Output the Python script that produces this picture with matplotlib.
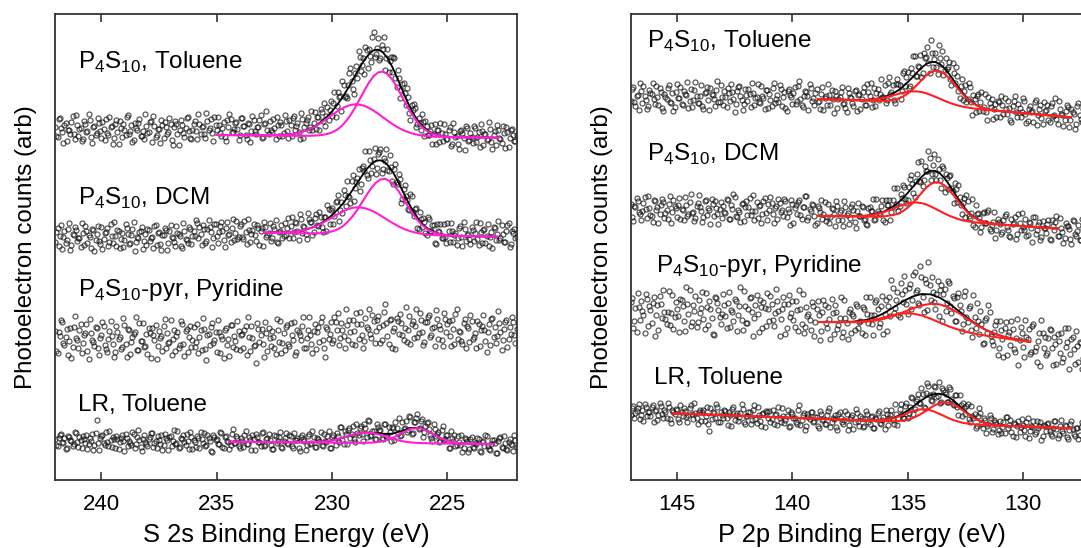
import numpy as np
import matplotlib.pyplot as plt

plt.rcParams['font.family'] = ['Liberation Sans', 'DejaVu Sans']

# energy ranges of the two sweeps (eV), one point per 0.1 eV, second sweep offset by half a step
s2s_range = (242.0, 222.0)
s2s_range_b = (241.95, 222.05)
p2p_range = (147.0, 127.0)
p2p_range_b = (146.95, 127.05)

# S 2s scans, counts (arb, stacked offsets) - sweep a
s2s_toluene = [
    353, 343, 362, 348, 355, 339, 350, 358, 346, 365, 344, 352, 341, 356, 349, 360, 337, 354, 347, 357,
    342, 351, 361, 345, 353, 336, 356, 348, 359, 343, 350, 363, 346, 355, 340, 352, 357, 344, 349, 366,
    347, 358, 338, 354, 345, 351, 360, 342, 353, 348, 356, 335, 359, 346, 350, 355, 343, 362, 349, 341,
    356, 349, 366, 346, 354, 342, 359, 352, 347, 363, 350, 355, 344, 358, 339, 353, 361, 348, 357, 351,
    345, 362, 354, 341, 356, 349, 360, 346, 353, 365, 343, 357, 350, 359, 348, 352, 363, 344, 355, 347,
    359, 342, 355, 362, 350, 357, 341, 361, 353, 360, 350, 369, 357, 351, 363, 371, 359, 354, 373, 370,
    364, 388, 374, 383, 369, 395, 384, 395, 412, 391, 407, 402, 423, 415, 406, 430, 431, 418, 448, 426,
    442, 422, 431, 410, 431, 419, 408, 422, 393, 402, 390, 397, 375, 383, 360, 370, 372, 356, 357, 366,
    344, 354, 345, 355, 346, 336, 350, 357, 339, 346, 341, 353, 336, 348, 344, 331, 350, 342, 354, 339,
    347, 337, 352, 343, 333, 349, 346, 340, 358, 338, 345, 335, 350, 341, 354, 332, 348, 342, 351, 339, 345]
s2s_dcm = [
    238, 252, 244, 231, 249, 240, 257, 235, 245, 250, 242, 233, 247, 254, 237, 243, 251, 229, 246, 239,
    253, 241, 248, 234, 256, 237, 244, 250, 232, 247, 240, 252, 236, 245, 258, 238, 242, 249, 231, 246,
    251, 239, 243, 254, 235, 248, 230, 245, 250, 237, 255, 242, 234, 247, 244, 232, 249, 240, 253, 236,
    249, 260, 242, 246, 255, 237, 251, 253, 233, 256, 244, 248, 258, 240, 252, 245, 238, 261, 247, 241,
    254, 243, 259, 236, 250, 246, 256, 239, 252, 249, 234, 253, 245, 257, 242, 251, 238, 248, 255, 244,
    245, 262, 254, 242, 258, 249, 266, 247, 253, 241, 261, 258, 248, 266, 254, 263, 248, 263, 275, 256,
    272, 264, 279, 259, 278, 290, 274, 284, 277, 305, 292, 302, 289, 312, 309, 305, 329, 307, 321, 306,
    326, 331, 311, 319, 310, 325, 299, 311, 298, 306, 277, 291, 284, 271, 286, 268, 271, 252, 268, 253,
    258, 245, 261, 249, 255, 236, 249, 256, 242, 243, 257, 238, 249, 245, 235, 252, 243, 258, 239, 246,
    236, 250, 247, 241, 257, 237, 251, 244, 234, 248, 253, 240, 259, 242, 246, 238, 255, 233, 249, 251, 243]
s2s_pyridine = [
    149, 127, 144, 158, 135, 151, 139, 122, 153, 142, 132, 156, 137, 147, 129, 161, 140, 134, 152, 125,
    145, 154, 131, 141, 159, 136, 128, 148, 143, 133, 155, 123, 150, 138, 146, 163, 130, 139, 157, 134,
    126, 147, 152, 140, 121, 149, 144, 154, 132, 137, 160, 141, 129, 148, 135, 156, 124, 151, 143, 133,
    153, 138, 127, 150, 162, 131, 145, 135, 157, 140, 128, 148, 144, 122, 152, 141, 155, 133, 139, 159,
    130, 146, 150, 125, 143, 154, 134, 117, 151, 145, 136, 158, 129, 142, 149, 132, 161, 138, 127, 147,
    153, 136, 157, 140, 125, 150, 145, 154, 132, 142, 163, 136, 149, 131, 153, 158, 140, 123, 151, 146,
    137, 163, 150, 135, 157, 144, 171, 140, 148, 160, 135, 156, 168, 145, 139, 153, 171, 142, 159, 149,
    164, 137, 155, 176, 144, 160, 132, 152, 162, 146, 157, 140, 173, 150, 136, 159, 154, 143, 167, 148,
    138, 158, 165, 145, 153, 170, 141, 151, 134, 161, 156, 144, 160, 136, 171, 149, 139, 157, 132, 152,
    165, 141, 147, 159, 134, 154, 150, 128, 156, 161, 143, 137, 169, 148, 140, 158, 133, 153, 163, 145, 151]
s2s_lr = [
    41, 34, 45, 38, 42, 32, 43, 39, 36, 47, 33, 40, 44, 37, 31, 42, 46, 35, 60, 30,
    44, 37, 48, 34, 40, 43, 32, 41, 38, 45, 29, 42, 39, 35, 46, 36, 50, 33, 41, 38,
    34, 43, 47, 37, 32, 40, 45, 35, 42, 30, 44, 39, 36, 49, 33, 41, 38, 46, 31, 43,
    40, 33, 42, 48, 37, 34, 45, 39, 28, 43, 41, 36, 47, 32, 44, 38, 35, 51, 37, 42,
    32, 39, 45, 36, 43, 30, 41, 46, 38, 34, 48, 35, 42, 40, 31, 45, 37, 43, 33, 39,
    47, 36, 44, 32, 40, 42, 29, 45, 39, 35, 46, 37, 43, 33, 41, 48, 34, 39, 44, 32,
    43, 40, 47, 38, 53, 36, 46, 50, 42, 54, 38, 47, 52, 46, 56, 43, 59, 45, 49, 41,
    53, 50, 41, 56, 43, 48, 53, 40, 52, 62, 45, 51, 59, 50, 63, 47, 58, 66, 52, 61,
    48, 57, 51, 42, 56, 44, 48, 39, 54, 41, 45, 32, 42, 45, 35, 38, 45, 32, 41, 28,
    41, 33, 37, 42, 29, 38, 34, 44, 31, 36, 40, 27, 39, 43, 32, 37, 30, 41, 35, 45, 33]

# S 2s - sweep b
s2s_toluene_b = [
    344, 361, 352, 337, 357, 350, 346, 364, 341, 355, 351, 339, 359, 348, 366, 343, 353, 345, 362, 349,
    358, 340, 347, 363, 354, 342, 360, 336, 352, 356, 345, 365, 349, 338, 357, 350, 361, 344, 341, 354,
    348, 359, 364, 343, 351, 337, 355, 358, 346, 362, 340, 353, 356, 335, 360, 347, 352, 363, 342, 350,
    359, 341, 356, 353, 346, 367, 350, 361, 339, 355, 363, 347, 352, 343, 360, 366, 348, 351, 358, 340,
    362, 354, 345, 357, 338, 364, 349, 353, 360, 342, 356, 369, 346, 350, 361, 341, 355, 358, 344, 365,
    349, 360, 344, 364, 354, 348, 367, 342, 357, 363, 353, 350, 368, 363, 350, 368, 377, 364, 360, 379,
    377, 363, 388, 384, 399, 383, 382, 407, 399, 386, 414, 429, 409, 422, 433, 412, 424, 443, 423, 432,
    420, 435, 443, 422, 408, 423, 423, 402, 410, 382, 396, 387, 392, 367, 375, 376, 353, 362, 350, 358,
    359, 345, 349, 336, 356, 350, 338, 347, 356, 341, 350, 334, 357, 343, 336, 349, 347, 330, 352, 340,
    343, 354, 338, 348, 356, 335, 346, 341, 351, 331, 349, 355, 342, 337, 347, 353, 333, 350, 345, 339]
s2s_dcm_b = [
    248, 234, 255, 243, 237, 251, 230, 246, 253, 239, 242, 257, 235, 249, 245, 232, 250, 240, 254, 236,
    231, 247, 252, 238, 244, 258, 234, 249, 241, 233, 256, 246, 237, 251, 229, 243, 248, 253, 239, 235,
    250, 242, 232, 255, 247, 236, 245, 252, 230, 249, 243, 238, 254, 246, 234, 257, 241, 237, 251, 244,
    244, 257, 253, 235, 251, 239, 260, 248, 242, 256, 237, 254, 249, 233, 258, 246, 252, 240, 259, 243,
    256, 241, 248, 261, 238, 250, 245, 255, 235, 252, 258, 243, 247, 239, 254, 260, 237, 249, 242, 257,
    252, 242, 263, 248, 257, 240, 261, 254, 246, 267, 258, 245, 262, 255, 268, 253, 263, 249, 271, 270,
    256, 278, 285, 270, 267, 285, 299, 283, 299, 279, 298, 311, 296, 314, 329, 302, 320, 314, 332, 312,
    328, 307, 322, 331, 309, 313, 296, 316, 296, 301, 281, 295, 280, 270, 284, 264, 272, 251, 261, 262,
    247, 263, 249, 255, 237, 256, 248, 242, 256, 237, 249, 257, 238, 247, 242, 254, 234, 251, 245, 241,
    253, 239, 258, 235, 248, 250, 237, 256, 243, 232, 252, 246, 240, 255, 238, 249, 257, 236, 247, 242]
s2s_pyridine_b = [
    129, 148, 160, 137, 143, 125, 152, 133, 164, 140, 150, 127, 145, 156, 121, 147, 138, 153, 132, 142,
    158, 135, 128, 149, 144, 123, 154, 141, 131, 162, 136, 151, 126, 143, 148, 130, 157, 139, 133, 146,
    152, 122, 145, 155, 134, 142, 129, 161, 147, 138, 125, 150, 144, 132, 159, 136, 149, 128, 154, 140,
    133, 156, 143, 130, 151, 120, 146, 153, 137, 148, 160, 127, 141, 150, 135, 124, 155, 144, 131, 149,
    145, 132, 154, 163, 129, 142, 135, 157, 138, 151, 123, 147, 152, 134, 143, 126, 150, 159, 137, 130,
    155, 134, 145, 158, 128, 148, 140, 163, 132, 150, 145, 127, 156, 148, 138, 163, 132, 153, 141, 158,
    140, 158, 167, 142, 150, 132, 155, 160, 136, 149, 167, 141, 156, 132, 162, 151, 146, 165, 137, 160,
    153, 140, 168, 157, 136, 161, 149, 131, 159, 166, 145, 152, 138, 164, 156, 142, 171, 147, 160, 135,
    158, 163, 143, 152, 134, 161, 155, 140, 167, 148, 159, 134, 151, 166, 141, 148, 136, 161, 154, 138,
    159, 143, 132, 156, 150, 165, 139, 148, 135, 162, 153, 144, 157, 130, 151, 160, 141, 146, 158, 137]
s2s_lr_b = [
    35, 42, 46, 37, 31, 44, 40, 34, 48, 38, 43, 32, 41, 45, 36, 39, 30, 47, 37, 42,
    45, 35, 38, 49, 33, 41, 44, 31, 42, 39, 46, 34, 37, 48, 32, 43, 40, 29, 45, 36,
    41, 47, 33, 39, 44, 36, 30, 46, 40, 43, 34, 50, 37, 32, 42, 45, 35, 39, 48, 31,
    38, 44, 32, 41, 47, 35, 42, 29, 45, 40, 36, 48, 33, 43, 39, 31, 46, 37, 44, 34,
    42, 33, 49, 36, 40, 45, 30, 43, 38, 47, 34, 41, 46, 35, 31, 44, 39, 48, 32, 42,
    37, 45, 34, 47, 40, 32, 43, 41, 30, 44, 36, 49, 33, 42, 39, 35, 46, 38, 49, 32,
    45, 35, 44, 53, 40, 49, 36, 52, 46, 41, 56, 45, 54, 39, 52, 60, 44, 49, 41, 56,
    50, 42, 56, 44, 53, 39, 52, 58, 47, 44, 58, 52, 48, 64, 46, 58, 62, 51, 59, 43,
    54, 58, 45, 39, 51, 46, 38, 50, 40, 45, 32, 49, 39, 34, 44, 35, 28, 42, 39, 31,
    43, 32, 36, 41, 28, 39, 45, 34, 30, 40, 37, 27, 42, 33, 44, 31, 38, 36, 29, 40]

# P 2p scans - sweep a
p2p_toluene = [
    379, 393, 374, 385, 397, 377, 384, 371, 390, 386, 381, 394, 375, 388, 369, 383, 392, 378, 387, 373,
    396, 382, 376, 389, 385, 372, 391, 380, 398, 377, 384, 374, 387, 393, 370, 386, 381, 390, 378, 395,
    375, 383, 392, 379, 388, 368, 389, 394, 380, 376, 385, 391, 373, 387, 382, 396, 377, 384, 371, 390,
    386, 374, 397, 381, 378, 391, 383, 372, 389, 385, 376, 393, 379, 399, 375, 384, 388, 370, 392, 382,
    387, 378, 371, 393, 382, 375, 385, 390, 367, 384, 381, 388, 376, 372, 392, 383, 377, 389, 369, 386,
    381, 393, 375, 388, 397, 380, 374, 391, 386, 383, 395, 380, 403, 388, 380, 396, 396, 381, 407, 394,
    408, 394, 407, 424, 404, 413, 403, 427, 423, 417, 440, 413, 427, 406, 422, 429, 410, 411, 418, 395,
    407, 413, 389, 394, 380, 395, 381, 393, 365, 381, 384, 369, 388, 373, 368, 383, 373, 361, 376, 379,
    363, 375, 382, 366, 372, 358, 379, 368, 376, 363, 382, 366, 359, 374, 369, 378, 355, 371, 362, 378,
    370, 360, 374, 364, 382, 356, 371, 365, 360, 375, 353, 371, 366, 356, 377, 361, 371, 349, 367, 362, 372]
p2p_dcm = [
    276, 259, 273, 279, 266, 269, 283, 262, 272, 264, 280, 270, 257, 275, 278, 267, 261, 284, 268, 274,
    263, 282, 271, 260, 275, 266, 286, 268, 262, 277, 273, 258, 279, 265, 270, 281, 264, 272, 256, 278,
    274, 267, 280, 261, 271, 283, 263, 268, 276, 259, 279, 273, 265, 285, 269, 262, 275, 266, 282, 260,
    270, 277, 257, 274, 281, 268, 264, 279, 271, 255, 276, 272, 266, 280, 261, 273, 284, 263, 269, 275,
    255, 274, 268, 261, 278, 263, 257, 272, 266, 279, 260, 270, 254, 273, 267, 262, 276, 258, 269, 264,
    274, 260, 256, 272, 269, 281, 261, 269, 266, 280, 258, 275, 280, 268, 292, 276, 269, 286, 295, 281,
    280, 301, 296, 283, 306, 299, 319, 300, 309, 329, 300, 315, 306, 321, 300, 314, 288, 302, 304, 292,
    277, 291, 295, 275, 277, 263, 279, 262, 281, 253, 266, 262, 253, 268, 257, 270, 249, 258, 242, 261,
    256, 248, 264, 253, 244, 261, 257, 241, 266, 250, 253, 261, 245, 257, 238, 263, 250, 258, 243, 252,
    247, 260, 240, 254, 258, 244, 262, 248, 242, 254, 251, 236, 259, 244, 255, 240, 251, 262, 241, 251, 245]
p2p_pyridine = [
    178, 152, 172, 187, 160, 169, 147, 181, 174, 157, 183, 165, 150, 176, 190, 161, 168, 155, 185, 163,
    171, 148, 180, 159, 193, 166, 154, 175, 184, 158, 167, 188, 151, 173, 179, 162, 145, 182, 170, 156,
    186, 164, 177, 153, 168, 181, 149, 174, 160, 189, 157, 171, 183, 144, 175, 166, 180, 152, 172, 187,
    159, 176, 154, 191, 169, 161, 183, 146, 176, 163, 179, 153, 170, 190, 156, 147, 173, 166, 150, 174,
    158, 179, 140, 168, 175, 152, 161, 181, 146, 168, 155, 183, 148, 162, 141, 171, 166, 150, 174, 158,
    147, 171, 183, 157, 165, 145, 178, 171, 157, 184, 166, 149, 183, 200, 167, 180, 165, 197, 178, 190,
    166, 196, 180, 208, 190, 175, 203, 168, 197, 218, 180, 188, 171, 199, 190, 159, 191, 177, 197, 167,
    182, 159, 187, 169, 156, 189, 158, 174, 143, 163, 177, 146, 156, 137, 162, 175, 144, 135, 155, 125,
    159, 141, 152, 125, 148, 159, 131, 142, 115, 153, 133, 160, 141, 126, 154, 129, 118, 147, 160, 132,
    125, 142, 150, 115, 136, 146, 127, 118, 152, 138, 111, 141, 131, 149, 118, 137, 122, 152, 126, 114, 140]
p2p_lr = [
    65, 74, 67, 72, 61, 70, 76, 64, 68, 73, 58, 70, 65, 74, 62, 68, 77, 61, 70, 66,
    70, 58, 68, 72, 63, 65, 75, 61, 67, 56, 70, 68, 59, 73, 49, 61, 67, 76, 58, 68,
    62, 69, 55, 65, 71, 60, 67, 63, 76, 58, 64, 68, 56, 70, 61, 73, 59, 66, 53, 68,
    69, 61, 56, 66, 73, 58, 64, 60, 70, 54, 66, 62, 56, 75, 60, 67, 54, 63, 68, 58,
    63, 54, 69, 60, 56, 65, 72, 58, 61, 53, 66, 62, 56, 69, 50, 61, 65, 58, 67, 54,
    62, 54, 69, 58, 63, 52, 62, 67, 57, 60, 51, 66, 62, 70, 56, 66, 62, 76, 62, 74,
    62, 73, 82, 71, 81, 77, 92, 73, 87, 94, 80, 86, 93, 84, 77, 92, 88, 78, 93, 81,
    75, 85, 65, 75, 77, 66, 76, 58, 64, 66, 54, 72, 56, 62, 47, 56, 62, 51, 58, 46,
    59, 53, 47, 63, 55, 48, 57, 43, 59, 53, 55, 44, 62, 49, 53, 46, 59, 54, 40, 55,
    49, 57, 46, 52, 59, 42, 54, 49, 55, 43, 50, 59, 46, 52, 41, 53, 55, 46, 39, 52, 50]

# P 2p - sweep b
p2p_toluene_b = [
    391, 378, 384, 370, 389, 394, 380, 374, 387, 397, 376, 383, 392, 372, 386, 381, 395, 377, 369, 388,
    382, 393, 375, 386, 398, 379, 373, 390, 384, 377, 395, 371, 388, 380, 392, 385, 374, 399, 378, 383,
    389, 373, 387, 396, 381, 376, 393, 384, 370, 391, 379, 386, 397, 375, 383, 378, 394, 382, 390, 372,
    380, 392, 377, 385, 395, 374, 388, 369, 391, 383, 387, 376, 394, 381, 373, 389, 384, 396, 379, 375,
    391, 379, 386, 370, 384, 396, 375, 381, 389, 372, 383, 393, 377, 368, 387, 382, 374, 390, 385, 371,
    388, 375, 396, 384, 373, 392, 387, 380, 401, 383, 377, 397, 386, 395, 377, 401, 395, 389, 409, 403,
    392, 412, 424, 404, 414, 425, 407, 422, 433, 407, 427, 421, 413, 435, 416, 405, 422, 413, 401, 417,
    397, 404, 382, 401, 389, 378, 397, 378, 385, 368, 386, 378, 369, 386, 360, 377, 381, 371, 363, 378,
    384, 366, 371, 379, 360, 374, 384, 363, 372, 368, 379, 357, 371, 368, 358, 380, 365, 375, 356, 369,
    375, 358, 377, 365, 361, 379, 366, 354, 369, 373, 360, 368, 351, 374, 365, 358, 376, 360, 368, 356]
p2p_dcm_b = [
    263, 274, 282, 268, 260, 277, 271, 284, 265, 258, 279, 273, 266, 281, 262, 270, 276, 257, 280, 272,
    275, 261, 270, 283, 264, 278, 267, 259, 274, 285, 269, 263, 280, 272, 256, 276, 279, 266, 271, 262,
    268, 281, 261, 275, 286, 264, 270, 258, 277, 273, 265, 282, 269, 260, 278, 274, 257, 279, 267, 276,
    283, 266, 272, 261, 277, 270, 281, 263, 268, 280, 257, 275, 278, 265, 273, 284, 260, 271, 276, 264,
    257, 272, 280, 266, 259, 276, 263, 271, 254, 274, 268, 260, 279, 265, 256, 273, 270, 252, 277, 264,
    273, 261, 255, 273, 269, 260, 281, 267, 274, 260, 280, 275, 260, 280, 273, 292, 274, 282, 293, 277,
    293, 305, 287, 299, 318, 298, 294, 314, 309, 322, 306, 326, 300, 311, 292, 312, 306, 291, 305, 289,
    297, 278, 283, 266, 282, 285, 264, 267, 255, 275, 267, 248, 267, 257, 268, 251, 255, 268, 250, 258,
    246, 260, 266, 250, 243, 256, 263, 246, 257, 267, 250, 244, 258, 252, 263, 246, 255, 240, 259, 252,
    256, 241, 260, 250, 264, 244, 252, 237, 257, 254, 241, 260, 246, 249, 240, 261, 243, 254, 237, 251]
p2p_pyridine_b = [
    182, 159, 148, 173, 179, 165, 186, 154, 170, 177, 144, 175, 184, 162, 168, 156, 189, 167, 151, 178,
    164, 181, 174, 149, 176, 190, 158, 169, 153, 180, 172, 161, 187, 155, 171, 146, 183, 177, 163, 166,
    175, 152, 188, 170, 159, 179, 165, 193, 150, 174, 157, 182, 168, 162, 185, 148, 173, 178, 154, 171,
    184, 160, 167, 179, 144, 171, 176, 152, 185, 167, 160, 179, 149, 171, 186, 153, 164, 160, 178, 144,
    171, 165, 149, 180, 157, 173, 141, 167, 175, 151, 162, 143, 180, 157, 168, 147, 164, 176, 152, 159,
    173, 145, 166, 183, 156, 165, 180, 153, 174, 146, 180, 174, 164, 192, 172, 188, 163, 186, 204, 176,
    192, 171, 205, 188, 177, 214, 183, 201, 170, 195, 203, 178, 186, 164, 195, 186, 169, 199, 174, 184,
    159, 183, 175, 149, 184, 163, 172, 150, 185, 152, 159, 169, 136, 160, 147, 168, 139, 148, 159, 132,
    150, 123, 158, 145, 135, 151, 128, 161, 140, 147, 123, 143, 151, 128, 156, 133, 139, 114, 147, 143,
    127, 151, 132, 143, 116, 139, 147, 122, 133, 152, 126, 143, 116, 134, 138, 111, 139, 127, 146, 120]
p2p_lr_b = [
    72, 62, 69, 76, 65, 59, 73, 68, 64, 75, 69, 60, 77, 66, 70, 62, 73, 57, 68, 71,
    61, 75, 64, 69, 58, 72, 66, 77, 62, 68, 59, 70, 64, 56, 72, 68, 62, 73, 58, 65,
    70, 62, 68, 54, 73, 65, 59, 67, 71, 56, 64, 68, 60, 75, 57, 65, 54, 67, 69, 62,
    58, 70, 65, 55, 62, 72, 57, 64, 53, 68, 62, 58, 70, 55, 65, 50, 66, 61, 68, 59,
    63, 52, 66, 61, 56, 69, 53, 62, 65, 50, 68, 58, 60, 66, 55, 63, 51, 71, 59, 64,
    53, 61, 66, 56, 64, 52, 61, 69, 56, 63, 70, 55, 65, 60, 76, 55, 71, 66, 62, 77,
    67, 83, 66, 79, 86, 77, 86, 72, 97, 85, 79, 94, 83, 98, 78, 90, 86, 78, 91, 76,
    85, 73, 85, 64, 72, 74, 61, 74, 62, 52, 64, 67, 52, 60, 54, 65, 48, 60, 56, 50,
    47, 58, 63, 52, 60, 44, 56, 54, 48, 61, 50, 58, 42, 54, 59, 48, 52, 58, 44, 54,
    56, 49, 44, 59, 51, 45, 60, 47, 54, 41, 56, 51, 44, 52, 45, 58, 48, 41, 54, 51]

# fitted components: energy nodes, background, peak 1, peak 2 (heights above background)
s2s_tol_e = [235.0, 233.0, 232.0, 231.8, 231.6, 231.4, 231.2, 231.0, 230.8, 230.6, 230.4, 230.2, 230.0,
             229.8, 229.6, 229.4, 229.2, 229.0, 228.8, 228.6, 228.4, 228.2, 228.0, 227.8, 227.6, 227.4,
             227.2, 227.0, 226.8, 226.6, 226.4, 226.2, 226.0, 225.8, 225.6, 225.4, 225.2, 225.0, 224.6, 222.8]
s2s_tol_bg = [344.8, 344.4, 344.1, 344.1, 344.0, 344.0, 344.0, 343.9, 343.9, 343.8, 343.8, 343.7, 343.7,
              343.6, 343.6, 343.6, 343.5, 343.5, 343.4, 343.4, 343.3, 343.3, 343.3, 343.2, 343.2, 343.1,
              343.1, 343.0, 343.0, 342.9, 342.9, 342.9, 342.8, 342.8, 342.7, 342.7, 342.6, 342.6, 342.5, 342.1]
s2s_tol_pk1 = [0, 0, 0, 0, 0, 0, 0.1, 0.1, 0.3, 0.6, 1.2, 2.1, 3.8, 6.2, 9.8, 14.8, 21.1, 28.7, 37.2, 45.9,
               53.9, 60.3, 64.1, 65.0, 62.5, 57.4, 50.1, 41.6, 32.9, 24.8, 17.8, 12.1, 7.9, 4.9, 2.9, 1.6,
               0.9, 0.4, 0.1, 0]
s2s_tol_pk2 = [0, 0.1, 1.0, 1.5, 2.3, 3.3, 4.7, 6.5, 8.8, 11.4, 14.5, 17.7, 21.1, 24.4, 27.3, 29.6, 31.3,
               32.0, 31.7, 30.6, 28.5, 25.9, 22.8, 19.4, 16.1, 12.9, 10.0, 7.6, 5.6, 4.0, 2.7, 1.8, 1.2,
               0.8, 0.5, 0.3, 0.2, 0.1, 0, 0]

s2s_dcm_e = [232.95, 231.9, 231.7, 231.5, 231.3, 231.1, 230.9, 230.7, 230.5, 230.3, 230.1, 229.9, 229.7,
             229.5, 229.3, 229.1, 228.9, 228.7, 228.5, 228.3, 228.1, 227.9, 227.7, 227.5, 227.3, 227.1,
             226.9, 226.7, 226.5, 226.3, 226.1, 225.9, 225.7, 225.5, 225.3, 225.1, 224.9, 224.5, 222.84]
s2s_dcm_bg = [247.1, 246.7, 246.6, 246.5, 246.5, 246.4, 246.3, 246.2, 246.1, 246.1, 246.0, 245.9, 245.8,
              245.7, 245.7, 245.6, 245.5, 245.4, 245.3, 245.3, 245.2, 245.1, 245.0, 244.9, 244.9, 244.8,
              244.7, 244.6, 244.5, 244.5, 244.4, 244.3, 244.2, 244.2, 244.1, 244.0, 243.9, 243.8, 243.1]
s2s_dcm_pk1 = [0, 0, 0, 0, 0, 0.1, 0.1, 0.3, 0.5, 1.0, 1.8, 3.3, 5.3, 8.4, 12.8, 18.2, 24.7, 32.0, 39.5,
               46.4, 51.9, 55.2, 56.0, 53.8, 49.4, 43.2, 35.8, 28.3, 21.4, 15.3, 10.4, 6.8, 4.2, 2.5, 1.4,
               0.8, 0.3, 0.1, 0]
s2s_dcm_pk2 = [0, 0.8, 1.3, 1.9, 2.8, 4.0, 5.5, 7.4, 9.6, 12.2, 14.9, 17.8, 20.6, 23.0, 25.0, 26.4, 27.0,
               26.7, 25.8, 24.0, 21.9, 19.2, 16.4, 13.6, 10.9, 8.4, 6.4, 4.7, 3.4, 2.3, 1.5, 1.0, 0.7, 0.4,
               0.3, 0.2, 0.1, 0, 0]

s2s_lr_e = [234.45, 231.5, 231.0, 230.6, 230.2, 229.8, 229.4, 229.0, 228.6, 228.2, 227.8, 227.4, 227.0,
            226.6, 226.2, 225.8, 225.4, 225.0, 224.6, 224.2, 223.0]
s2s_lr_bg = [38.1, 37.5, 37.4, 37.3, 37.25, 37.2, 37.1, 37.0, 36.9, 36.85, 36.8, 36.7, 36.6, 36.5, 36.45,
             36.4, 36.3, 36.2, 36.1, 36.05, 35.8]
s2s_lr_pk1 = [0, 0, 0, 0, 0, 0, 0, 0, 0.1, 0.4, 1.7, 4.9, 9.9, 14.5, 15.3, 11.7, 6.5, 2.6, 0.7, 0.15, 0]
s2s_lr_pk2 = [0, 0, 0.1, 0.5, 1.4, 3.3, 6.0, 8.8, 10.4, 9.9, 7.5, 4.5, 2.2, 0.9, 0.3, 0.1, 0, 0, 0, 0, 0]

p2p_tol_e = [138.87, 137.0, 136.5, 136.0, 135.6, 135.4, 135.2, 135.0, 134.8, 134.6, 134.4, 134.2, 134.0,
             133.8, 133.6, 133.4, 133.2, 133.0, 132.8, 132.6, 132.4, 132.2, 132.0, 131.8, 131.6, 131.4,
             131.2, 131.0, 130.4, 129.6, 128.8, 127.93]
p2p_tol_bg = [380.8, 379.2, 378.8, 378.4, 377.9, 377.5, 377.1, 376.7, 376.3, 375.9, 375.5, 375.1, 374.7,
              374.3, 373.9, 373.5, 373.1, 372.7, 372.3, 371.9, 371.5, 371.1, 370.7, 370.3, 369.9, 369.5,
              369.1, 368.7, 367.5, 365.9, 364.3, 362.6]
p2p_tol_pk1 = [0, 0, 0.1, 0.6, 2.1, 3.7, 6.2, 9.5, 13.8, 18.9, 24.1, 29.1, 32.8, 34.8, 34.7, 32.5, 28.5,
               23.7, 18.3, 13.4, 9.1, 5.9, 3.6, 2.0, 1.1, 0.5, 0.25, 0.1, 0, 0, 0, 0]
p2p_tol_pk2 = [0, 0.4, 1.4, 3.8, 6.8, 8.4, 10.0, 11.3, 12.1, 12.5, 12.3, 11.5, 10.2, 8.7, 7.1, 5.5, 4.1,
               2.9, 1.9, 1.2, 0.75, 0.44, 0.25, 0.13, 0.07, 0, 0, 0, 0, 0, 0, 0]

p2p_dcm_e = [138.88, 137.0, 136.5, 136.0, 135.6, 135.4, 135.2, 135.0, 134.8, 134.6, 134.4, 134.2, 134.0,
             133.8, 133.6, 133.4, 133.2, 133.0, 132.8, 132.6, 132.4, 132.2, 132.0, 131.8, 131.6, 131.4,
             131.2, 131.0, 130.4, 129.6, 128.5]
p2p_dcm_bg = [263.8, 263.2, 263.0, 262.9, 262.6, 262.3, 262.0, 261.7, 261.4, 261.0, 260.7, 260.4, 260.1,
              259.8, 259.4, 259.1, 258.8, 258.5, 258.2, 257.8, 257.5, 257.2, 256.9, 256.6, 256.2, 255.9,
              255.6, 255.3, 254.3, 253.0, 251.3]
p2p_dcm_pk1 = [0, 0, 0.1, 0.6, 2.3, 4.0, 6.7, 10.4, 15.0, 20.5, 26.1, 31.6, 35.6, 37.8, 37.7, 35.2, 31.0,
               25.7, 19.9, 14.5, 9.9, 6.4, 3.9, 2.2, 1.2, 0.6, 0.3, 0.1, 0, 0, 0]
p2p_dcm_pk2 = [0, 0.5, 1.8, 5.0, 8.9, 11.0, 13.0, 14.7, 15.8, 16.3, 16.0, 15.0, 13.3, 11.3, 9.3, 7.2, 5.3,
               3.8, 2.5, 1.6, 1.0, 0.6, 0.3, 0.2, 0.1, 0, 0, 0, 0, 0, 0]

p2p_pyr_e = [138.85, 137.4, 136.8, 136.4, 136.0, 135.6, 135.2, 134.8, 134.4, 134.0, 133.6, 133.2, 132.8,
             132.4, 132.0, 131.6, 131.2, 130.8, 130.4, 130.0, 129.69]
p2p_pyr_bg = [157.8, 157.3, 157.0, 156.9, 156.7, 156.5, 155.5, 154.3, 153.0, 151.7, 150.4, 149.1, 147.9,
              146.6, 145.3, 144.0, 142.7, 141.4, 140.2, 138.9, 137.9]
p2p_pyr_pk1 = [0, 0.3, 1.1, 2.3, 4.4, 7.7, 12.0, 16.9, 21.4, 24.3, 25.0, 22.9, 19.0, 14.2, 9.5, 5.7, 3.1,
               1.5, 0.7, 0.3, 0.1]
p2p_pyr_pk2 = [0, 0.5, 1.7, 3.4, 5.8, 8.5, 10.9, 12.0, 11.4, 9.4, 6.7, 4.2, 2.2, 1.0, 0.4, 0.15, 0.05,
               0, 0, 0, 0]

p2p_lr_e = [145.15, 140.0, 137.0, 136.0, 135.6, 135.4, 135.2, 135.0, 134.8, 134.6, 134.4, 134.2, 134.0,
            133.8, 133.6, 133.4, 133.2, 133.0, 132.8, 132.6, 132.4, 132.2, 132.0, 131.8, 131.6, 131.4,
            130.8, 130.0, 127.9]
p2p_lr_bg = [66.5, 62.0, 59.4, 58.5, 58.2, 58.0, 57.8, 57.7, 57.5, 57.3, 57.1, 57.0, 56.8, 56.6, 56.4,
             56.3, 56.1, 55.9, 55.8, 55.6, 55.4, 55.2, 55.1, 54.9, 54.7, 54.5, 54.0, 53.3, 51.5]
p2p_lr_pk1 = [0, 0, 0, 0.1, 0.4, 0.8, 1.5, 2.5, 4.1, 6.3, 9.0, 12.1, 15.3, 18.2, 20.3, 21.3, 20.9, 19.4,
              16.8, 13.7, 10.5, 7.6, 5.1, 3.3, 1.9, 1.1, 0.1, 0, 0]
p2p_lr_pk2 = [0, 0, 0, 1.4, 3.5, 5.2, 7.1, 9.1, 11.0, 12.5, 13.4, 13.4, 12.6, 11.2, 9.3, 7.3, 5.3, 3.7,
              2.4, 1.4, 0.8, 0.45, 0.2, 0.1, 0.05, 0, 0, 0, 0]

sample_labels = [r'P$_\mathregular{4}$S$_\mathregular{10}$, Toluene',
                 r'P$_\mathregular{4}$S$_\mathregular{10}$, DCM',
                 r'P$_\mathregular{4}$S$_\mathregular{10}$-pyr, Pyridine',
                 'LR, Toluene']


def scan(ax, rng, y):
    x = np.linspace(rng[0], rng[1], len(y))
    ax.plot(x, y, 'o', ms=3.6, mfc='none', mec='#111111', mew=0.9, alpha=0.7)


def fit(ax, e, bg, pk1, pk2, col):
    e, bg, pk1, pk2 = map(np.asarray, (e, bg, pk1, pk2))
    ax.plot(e, bg + pk1 + pk2, color='black', lw=1.3)
    ax.plot(e, bg + pk1, color=col, lw=1.5)
    ax.plot(e, bg + pk2, color=col, lw=1.5)


W, H = 1081, 548
fig = plt.figure(figsize=(W / 100, H / 100), dpi=100)
ax1 = fig.add_axes([55.2 / W, 1 - 479.8 / H, 461.4 / W, 466 / H])
ax2 = fig.add_axes([630.8 / W, 1 - 479.8 / H, 461.4 / W, 466 / H])

magenta = '#ff1fd2'
red = '#ff2020'

for y in (s2s_toluene, s2s_dcm, s2s_pyridine, s2s_lr):
    scan(ax1, s2s_range, y)
for y in (s2s_toluene_b, s2s_dcm_b, s2s_pyridine_b, s2s_lr_b):
    scan(ax1, s2s_range_b, y)
fit(ax1, s2s_tol_e, s2s_tol_bg, s2s_tol_pk1, s2s_tol_pk2, magenta)
fit(ax1, s2s_dcm_e, s2s_dcm_bg, s2s_dcm_pk1, s2s_dcm_pk2, magenta)
fit(ax1, s2s_lr_e, s2s_lr_bg, s2s_lr_pk1, s2s_lr_pk2, magenta)

for y in (p2p_toluene, p2p_dcm, p2p_pyridine, p2p_lr):
    scan(ax2, p2p_range, y)
for y in (p2p_toluene_b, p2p_dcm_b, p2p_pyridine_b, p2p_lr_b):
    scan(ax2, p2p_range_b, y)
fit(ax2, p2p_tol_e, p2p_tol_bg, p2p_tol_pk1, p2p_tol_pk2, red)
fit(ax2, p2p_dcm_e, p2p_dcm_bg, p2p_dcm_pk1, p2p_dcm_pk2, red)
fit(ax2, p2p_pyr_e, p2p_pyr_bg, p2p_pyr_pk1, p2p_pyr_pk2, red)
fit(ax2, p2p_lr_e, p2p_lr_bg, p2p_lr_pk1, p2p_lr_pk2, red)

# sample labels
for txt, yy in zip(sample_labels, [410.8, 274.5, 183.8, 68.3]):
    ax1.text(241.03, yy, txt, fontsize=17.5, va='baseline', ha='left')
for txt, xx, yy in zip(sample_labels, [146.3, 146.3, 145.9, 146.0], [432.2, 319.3, 207.5, 95.8]):
    ax2.text(xx, yy, txt, fontsize=17.5, va='baseline', ha='left')

ax1.set_xlim(*s2s_range)
ax1.set_xticks([240, 235, 230, 225])
ax1.set_xlabel('S 2s Binding Energy (eV)', fontsize=18.4, labelpad=6)
ax2.set_xlim(*p2p_range)
ax2.set_xticks([145, 140, 135, 130])
ax2.set_xlabel('P 2p Binding Energy (eV)', fontsize=18.4, labelpad=6)

for ax in (ax1, ax2):
    ax.set_ylim(0, 466)
    ax.set_yticks([])
    ax.set_ylabel('Photoelectron counts (arb)', fontsize=17.4, labelpad=13)
    ax.tick_params(axis='x', direction='in', top=True, length=6, width=1.2,
                   labelsize=16, pad=10, color='#333333')
    for s in ax.spines.values():
        s.set_linewidth(1.3)
        s.set_color('#333333')

fig.savefig('out.png', dpi=100)
